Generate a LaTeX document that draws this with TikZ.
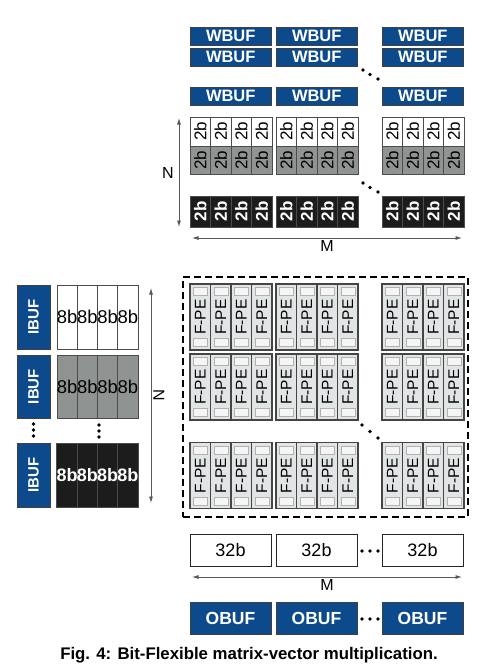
\documentclass[tikz,border=0pt]{standalone}
\usepackage{fontspec}
\setmainfont{Liberation Sans}
\usetikzlibrary{arrows.meta,positioning}
\definecolor{bufblue}{HTML}{0C4A8C}
\definecolor{cellgray}{HTML}{8F9492}
\definecolor{cellblack}{HTML}{1C1C1C}
\definecolor{peedge}{HTML}{454545}
\definecolor{pefill}{HTML}{E2E5E5}

\begin{document}
\begin{tikzpicture}[x=1pt, y=-1pt,
  buf/.style={draw=black!75, line width=0.6pt, fill=bufblue, text=white, inner sep=0pt,
    font=\bfseries\fontsize{16.5}{17}\selectfont},
  wbuf/.style={buf, minimum width=81pt, minimum height=18pt},
  obuf/.style={buf, minimum width=81pt, minimum height=32pt, font=\bfseries\fontsize{17.5}{18}\selectfont},
  ibuf/.style={buf, rotate=90, minimum height=33pt, font=\bfseries\fontsize{15}{15}\selectfont},
  bitcell/.style={draw=black!70, line width=0.6pt, rotate=90, inner sep=0pt, minimum height=20.5pt,
    font=\fontsize{17}{17}\selectfont},
  wcell/.style={bitcell, fill=white, minimum width=29pt},
  gcell/.style={bitcell, fill=cellgray, minimum width=28pt},
  kcell/.style={bitcell, fill=cellblack, text=white, minimum width=31pt, font=\bfseries\fontsize{17}{17}\selectfont},
  incell/.style={draw=black!70, line width=0.6pt, inner sep=0pt, minimum width=20.25pt,
    font=\fontsize{18.5}{18}\selectfont},
  pe/.style={draw=peedge, line width=1.3pt, fill=pefill, rotate=90, inner sep=0pt,
    minimum width=66pt, minimum height=20.5pt, font=\fontsize{15.5}{15}\selectfont},
  peinner/.style={draw=black!30, line width=0.5pt, fill=gray!8},
  pegroup/.style={draw=peedge, line width=1.5pt},
  accbox/.style={draw=black!85, line width=0.7pt, fill=white, inner sep=0pt,
    minimum width=81pt, minimum height=32pt, font=\fontsize{18}{18}\selectfont},
  dim/.style={{Latex[length=6.5pt,width=4pt]}-{Latex[length=6.5pt,width=4pt]}, draw=black!65, line width=0.8pt},
  dimlabel/.style={font=\fontsize{16}{16}\selectfont, inner sep=1pt},
  dot/.style={fill=black}
]
  \useasboundingbox (0,0) rectangle (489,670);

  % weight buffers
  \foreach \r/\y in {1/36,2/57,3/96}
    \foreach \c/\gx in {1/190,2/276,3/382}
      \node[wbuf] (wbuf-\r-\c) at (\gx+40.75,\y) {WBUF};

  % 2b weight slices
  \foreach \c/\gx in {1/190,2/276,3/382}
    \foreach \i in {0,...,3} {
      \node[wcell] (wt-\c-\i) at (\gx+10.25+20.5*\i,131.5) {2b};
      \node[gcell] (wm-\c-\i) at (\gx+10.25+20.5*\i,160) {2b};
      \node[kcell] (wb-\c-\i) at (\gx+10.25+20.5*\i,211.5) {2b};
    }

  \coordinate (wNtop) at (179,118);
  \coordinate (wNbot) at (179,227);
  \draw[dim] (wNtop) -- node[dimlabel, left=4pt] (wN) {N} (wNbot);
  \coordinate (wMleft) at (192,238);
  \coordinate (wMright) at (462,238);
  \draw[dim] (wMleft) -- node[dimlabel, below=1.5pt] (wM) {M} (wMright);

  % input buffers and 8b activations
  \foreach \r/\y/\h in {1/317/64,2/386.5/63,3/475/64}
    \node[ibuf, minimum width=\h pt] (ibuf-\r) at (33.5,\y) {IBUF};
  \foreach \i in {0,...,3} {
    \node[incell, fill=white, minimum height=64pt] (in1-\i) at (67.1+20.25*\i,317) {8b};
    \node[incell, fill=cellgray, minimum height=63pt] (in2-\i) at (67.1+20.25*\i,386.5) {8b};
    \node[incell, fill=cellblack, text=white, minimum height=64pt,
      font=\bfseries\fontsize{18}{18}\selectfont] (in3-\i) at (67.1+20.25*\i,475) {8b};
  }

  \coordinate (iNtop) at (151,288);
  \coordinate (iNbot) at (151,503);
  \draw[dim] (iNtop) -- node[dimlabel, xshift=8pt, rotate=-90] (iN) {N} (iNbot);

  % F-PE array
  \node[draw, dashed, dash pattern=on 7pt off 4pt, line width=1.5pt, minimum width=285pt,
    minimum height=240pt] (pearray) at (325.5,397) {};
  \foreach \r/\y in {1/317,2/387,3/475.5}
    \foreach \c/\gx in {1/190,2/276,3/382} {
      \foreach \i in {0,...,3} {
        \pgfmathsetmacro\px{\gx+10.25+20.5*\i}
        \node[pe] (pe-\r-\c-\i) at (\px,\y) {F-PE};
        \draw[peinner] (\px-7,\y-29.5) rectangle (\px+7,\y-21.5);
        \draw[peinner] (\px-7,\y+21.5) rectangle (\px+7,\y+29.5);
      }
      \draw[pegroup] (\gx,\y-33) rectangle (\gx+82,\y+33);
    }

  % accumulators and output buffers
  \foreach \c/\gx in {1/190,2/276,3/382} {
    \node[accbox] (acc-\c) at (\gx+40.5,550) {32b};
    \node[obuf] (obuf-\c) at (\gx+40.5,618) {OBUF};
  }
  \coordinate (oMleft) at (192,577);
  \coordinate (oMright) at (462,577);
  \draw[dim] (oMleft) -- node[dimlabel, below=1.5pt] (oM) {M} (oMright);

  % ellipses
  \foreach \x/\y in {363/70,370/74.5,378/79, 363/183,370/187.5,378/192,
                     362/425,370/431.5,378/438, 33.5/424,33.5/430,33.5/436,
                     99/425,99/431,99/437, 362/551,370/551,378/551,
                     362/619,370/619,378/619}
    \fill[dot] (\x,\y) circle (1.9pt);

  \node[font=\bfseries\fontsize{16.8}{18}\selectfont] (caption) at (249,655)
    {Fig. 4: Bit-Flexible matrix-vector multiplication.};
\end{tikzpicture}
\end{document}
